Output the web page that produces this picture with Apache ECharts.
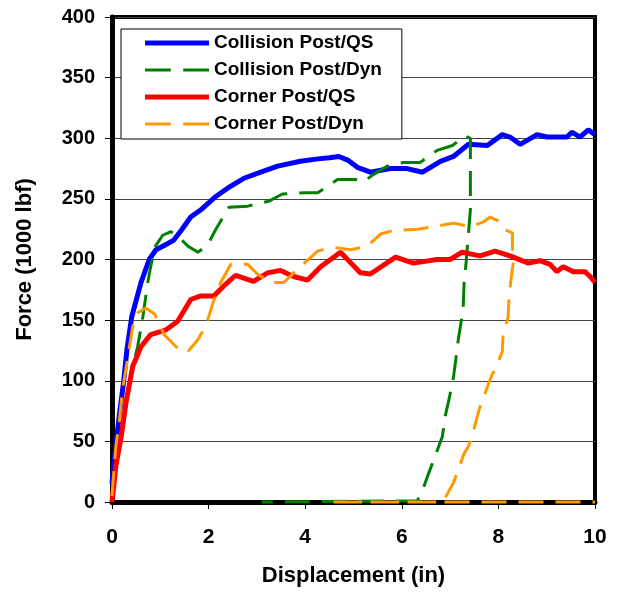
<!DOCTYPE html>
<html lang="en">
<head>
    <meta charset="UTF-8">
    <title>Force vs Displacement</title>
    <style>
        html, body { margin: 0; padding: 0; background: #fff; }
        #main { width: 618px; height: 592px; }
    </style>
</head>
<body>
    <div id="main"></div>
    <script src="https://cdn.jsdelivr.net/npm/echarts@6/dist/echarts.min.js"></script>
    <script>
    // series names (legend order)
    var names = ['Collision Post/QS', 'Collision Post/Dyn', 'Corner Post/QS', 'Corner Post/Dyn'];

    // [displacement (in), force (1000 lbf)]
    var collisionQS = [
        [0, 15], [0.04, 33], [0.15, 71], [0.24, 99], [0.31, 126], [0.41, 153], [0.6, 181],
        [0.77, 200], [0.91, 208], [1.1, 212], [1.28, 216], [1.45, 225], [1.63, 235], [1.84, 241],
        [2.15, 252], [2.4, 259], [2.73, 267], [3.08, 272], [3.43, 277], [3.9, 281], [4.26, 283],
        [4.5, 284], [4.7, 285], [4.88, 282], [5.08, 276], [5.35, 272], [5.76, 275], [6.11, 275],
        [6.43, 272], [6.8, 281], [7.07, 285], [7.38, 295], [7.77, 294], [8.08, 303], [8.24, 301],
        [8.45, 295], [8.8, 303], [9.0, 301], [9.42, 301], [9.52, 305], [9.69, 301], [9.86, 307], [10, 303]
    ];
    var collisionDyn = [
        [0, 0], [0.08, 25], [0.15, 45], [0.25, 71], [0.35, 95], [0.45, 115], [0.53, 128], [0.64, 153],
        [0.74, 181], [0.8, 194], [0.9, 211], [1.05, 220], [1.22, 223], [1.4, 218], [1.57, 211],
        [1.78, 206], [1.98, 212], [2.15, 225], [2.42, 243], [2.81, 244], [3.24, 248], [3.53, 254],
        [3.97, 255], [4.26, 255], [4.67, 266], [5.04, 266], [5.2, 264], [5.41, 270], [5.7, 277],
        [6.03, 280], [6.38, 280], [6.73, 290], [7.05, 294], [7.31, 302], [7.42, 300], [7.42, 241],
        [7.33, 197], [7.29, 181], [7.27, 159], [7.23, 149], [7.17, 134], [7.12, 118], [7.07, 103],
        [6.98, 85], [6.9, 71], [6.84, 54], [6.71, 40], [6.55, 23], [6.45, 12], [6.32, 1], [6.3, 0], [3.1, 0]
    ];
    var cornerQS = [
        [0, 0], [0.02, 1], [0.08, 30], [0.19, 54], [0.29, 82], [0.43, 112], [0.6, 128], [0.8, 138],
        [1.12, 142], [1.36, 149], [1.63, 167], [1.84, 170], [2.11, 170], [2.31, 178], [2.56, 187],
        [2.93, 182], [3.22, 189], [3.49, 191], [3.76, 186], [4.05, 183], [4.32, 194], [4.73, 206],
        [4.95, 197], [5.14, 189], [5.35, 188], [5.87, 202], [6.24, 197], [6.73, 200], [7.0, 200],
        [7.25, 206], [7.62, 203], [7.93, 207], [8.24, 203], [8.62, 197], [8.86, 199], [9.07, 196],
        [9.21, 190], [9.34, 194], [9.55, 190], [9.79, 190], [9.9, 186], [10, 181]
    ];
    var cornerDyn = [
        [0, 5], [0.02, 16], [0.08, 46], [0.15, 66], [0.22, 93], [0.33, 120], [0.43, 145], [0.53, 156],
        [0.7, 160], [0.88, 155], [1.08, 138], [1.43, 124], [1.57, 124], [1.78, 134], [1.95, 146],
        [2.08, 163], [2.25, 181], [2.46, 196], [2.81, 196], [3.01, 188], [3.28, 181], [3.55, 181],
        [3.9, 194], [4.26, 207], [4.59, 210], [4.94, 208], [5.29, 211], [5.56, 221], [5.83, 224],
        [6.32, 225], [6.65, 227], [7.07, 230], [7.42, 227], [7.69, 231], [7.83, 235], [7.98, 232],
        [8.1, 225], [8.29, 222], [8.29, 211], [8.31, 198], [8.26, 183], [8.22, 169], [8.2, 152],
        [8.1, 140], [8.08, 124], [7.98, 114], [7.87, 105], [7.79, 97], [7.69, 86], [7.6, 76],
        [7.56, 70], [7.48, 58], [7.38, 46], [7.29, 40], [7.17, 27], [7.07, 16], [6.88, 2], [6.85, 0],
        [4.5, 0], [10, 0]
    ];

    var font = "'Liberation Sans', Arial, sans-serif";

    // legend icons: a thick bar for QS, two dashes for Dyn
    var solidIcon = 'path://M0,0h64v5h-64z';
    var dashIcon = 'path://M0,0h25v3h-25z M37,0h25v3h-25z';

    function mkSeries(name, data, color, dashed) {
        return {
            name: name,
            type: 'line',
            data: data,
            symbol: 'none',
            clip: false,
            smooth: false,
            lineStyle: {
                color: color,
                width: dashed ? 3 : 5,
                type: dashed ? [25, 12] : 'solid'
            },
            itemStyle: { color: color }
        };
    }

    var myChart = echarts.init(document.getElementById('main'), null, { renderer: 'canvas' });

    var option = {
        backgroundColor: '#fff',
        animation: false,
        grid: {
            left: 112, right: 23, top: 17, bottom: 89,
            show: true,
            borderColor: '#000',
            borderWidth: 4
        },
        legend: {
            orient: 'vertical',
            left: 121,
            top: 29,
            data: [
                { name: names[0], icon: solidIcon },
                { name: names[1], icon: dashIcon },
                { name: names[2], icon: solidIcon },
                { name: names[3], icon: dashIcon }
            ],
            itemWidth: 64,
            itemHeight: 14,
            itemGap: 7,
            padding: [4, 20, 5, 24],
            backgroundColor: '#fff',
            borderColor: '#000',
            borderWidth: 1,
            borderRadius: 0,
            textStyle: {
                fontFamily: font,
                fontWeight: 'bold',
                fontSize: 19,
                lineHeight: 20,
                color: '#000'
            }
        },
        xAxis: {
            type: 'value',
            min: 0, max: 10, interval: 2,
            name: 'Displacement (in)',
            nameLocation: 'middle',
            nameGap: 63,
            nameTextStyle: { fontFamily: font, fontWeight: 'bold', fontSize: 22, color: '#000' },
            axisLine: { show: true, lineStyle: { color: '#000', width: 5 } },
            axisTick: { show: true, length: 7, lineStyle: { color: '#000', width: 1 } },
            axisLabel: { fontFamily: font, fontWeight: 'bold', fontSize: 21, color: '#000', margin: 25 },
            splitLine: { show: false }
        },
        yAxis: {
            type: 'value',
            min: 0, max: 400, interval: 50,
            name: 'Force (1000 lbf)',
            nameLocation: 'middle',
            nameGap: 76,
            nameTextStyle: { fontFamily: font, fontWeight: 'bold', fontSize: 22, color: '#000' },
            axisLine: { show: true, lineStyle: { color: '#000', width: 5 } },
            axisTick: { show: true, length: 7, lineStyle: { color: '#000', width: 1 } },
            axisLabel: { fontFamily: font, fontWeight: 'bold', fontSize: 20, color: '#000', margin: 17 },
            splitLine: { show: true, lineStyle: { color: '#444', width: 1 } }
        },
        series: [
            mkSeries(names[0], collisionQS, '#0000FF', false),
            mkSeries(names[1], collisionDyn, '#008000', true),
            mkSeries(names[2], cornerQS, '#FF0000', false),
            mkSeries(names[3], cornerDyn, '#FF9900', true)
        ]
    };

    myChart.setOption(option);
    window.addEventListener('resize', myChart.resize);
    </script>
</body>
</html>
